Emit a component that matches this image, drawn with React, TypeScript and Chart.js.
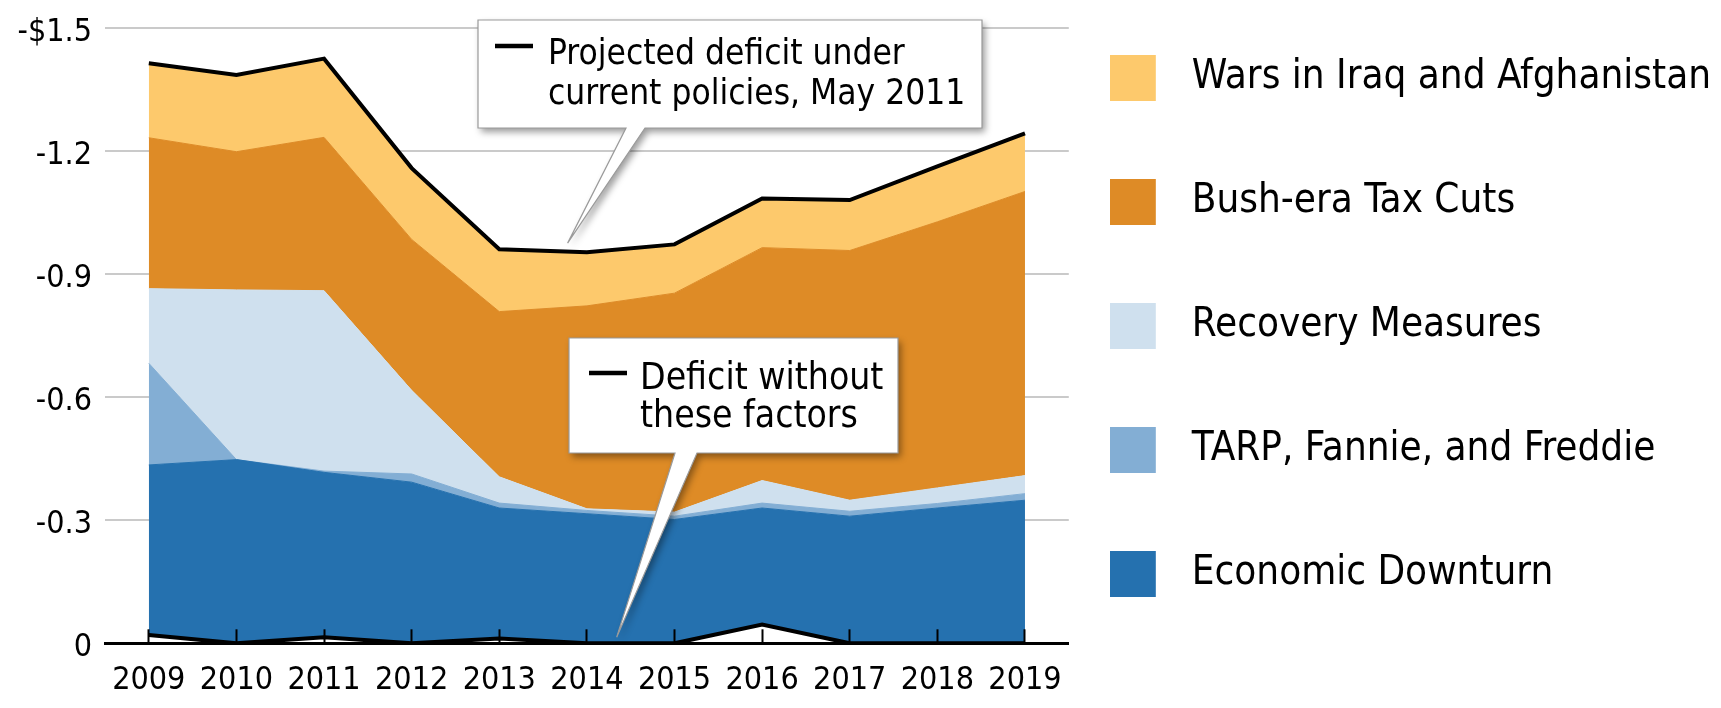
import React, { useEffect, useRef } from 'react';
import { Chart, registerables } from 'chart.js';

Chart.register(...registerables);

// ---------- data (US$ trillions, deficits shown as negative values) ----------
const YEARS = ['2009', '2010', '2011', '2012', '2013', '2014', '2015', '2016', '2017', '2018', '2019'];
// Deficit without these factors (the stack starts from this line)
const BASELINE = [-0.02, 0, -0.015, 0, -0.012, 0, 0, -0.046, 0, 0, 0];
const ECONOMIC_DOWNTURN = [-0.415, -0.448, -0.402, -0.393, -0.318, -0.316, -0.302, -0.284, -0.31, -0.33, -0.349];
const TARP_FANNIE_FREDDIE = [-0.248, 0, -0.003, -0.02, -0.012, -0.008, -0.008, -0.012, -0.012, -0.011, -0.016];
const RECOVERY_MEASURES = [-0.182, -0.414, -0.44, -0.204, -0.064, -0.004, -0.01, -0.055, -0.027, -0.038, -0.044];
const BUSH_TAX_CUTS = [-0.368, -0.337, -0.374, -0.368, -0.403, -0.495, -0.534, -0.568, -0.609, -0.649, -0.693];
const WARS = [-0.182, -0.187, -0.192, -0.174, -0.152, -0.131, -0.119, -0.12, -0.123, -0.135, -0.142];

const Y_TICK_VALUES = [-1.5, -1.2, -0.9, -0.6, -0.3, 0];
const Y_TICK_LABELS = ['-$1.5', '-1.2', '-0.9', '-0.6', '-0.3', '0'];

const LABEL_BASELINE = 'Deficit without these factors';
const LABEL_ED = 'Economic Downturn';
const LABEL_TARP = 'TARP, Fannie, and Freddie';
const LABEL_RECOVERY = 'Recovery Measures';
const LABEL_BUSH = 'Bush-era Tax Cuts';
const LABEL_WARS = 'Wars in Iraq and Afghanistan';

// ---------- styling ----------
const FONT = "'DejaVu Sans Condensed', 'Liberation Sans Narrow', 'Arial Narrow', sans-serif";
const C_ED = '#2571af';
const C_TARP = '#83aed4';
const C_RECOVERY = '#cfe0ee';
const C_BUSH = '#de8b26';
const C_WARS = '#fdc96c';

const TICK_FONT_SIZE = 32;
const LEGEND_FONT_SIZE = 40;

// callouts: the tip is anchored in data space, the box is layout
const CALLOUTS = [
  {
    lines: ['Projected deficit under', 'current policies, May 2011'],
    tipIndex: 4.78,
    tipValue: -0.976,
    fontSize: 35,
    box: { left: 478, top: 20, right: 982, bottom: 128, baseL: 626, baseR: 645 },
    marker: { x1: 495, x2: 533, y: 46 },
    textX: 548,
    baselines: [64, 104],
  },
  {
    lines: ['Deficit without', 'these factors'],
    tipIndex: 5.34,
    tipValue: -0.015,
    fontSize: 37,
    box: { left: 569, top: 338, right: 898, bottom: 453, baseL: 675, baseR: 697 },
    marker: { x1: 589, x2: 627, y: 373 },
    textX: 640,
    baselines: [389, 427],
  },
];

const calloutPlugin = {
  id: 'callouts',
  afterDraw(chart: any) {
    const { ctx } = chart;
    const xs = chart.scales.x;
    const ys = chart.scales.y;
    for (const c of CALLOUTS) {
      const tx = xs.getPixelForValue(c.tipIndex);
      const ty = ys.getPixelForValue(c.tipValue);
      const b = c.box;
      ctx.save();
      ctx.beginPath();
      ctx.moveTo(b.left, b.top);
      ctx.lineTo(b.right, b.top);
      ctx.lineTo(b.right, b.bottom);
      ctx.lineTo(b.baseR, b.bottom);
      ctx.lineTo(tx, ty);
      ctx.lineTo(b.baseL, b.bottom);
      ctx.lineTo(b.left, b.bottom);
      ctx.closePath();
      ctx.shadowColor = 'rgba(0,0,0,0.4)';
      ctx.shadowBlur = 7;
      ctx.shadowOffsetX = 3;
      ctx.shadowOffsetY = 4;
      ctx.fillStyle = '#ffffff';
      ctx.fill();
      ctx.shadowColor = 'rgba(0,0,0,0)';
      ctx.shadowBlur = 0;
      ctx.shadowOffsetX = 0;
      ctx.shadowOffsetY = 0;
      ctx.strokeStyle = '#9a9a9a';
      ctx.lineWidth = 1.2;
      ctx.stroke();
      ctx.beginPath();
      ctx.moveTo(c.marker.x1, c.marker.y);
      ctx.lineTo(c.marker.x2, c.marker.y);
      ctx.strokeStyle = '#000';
      ctx.lineWidth = 4.5;
      ctx.lineCap = 'butt';
      ctx.stroke();
      ctx.fillStyle = '#000';
      ctx.font = `${c.fontSize}px ${FONT}`;
      ctx.textAlign = 'left';
      ctx.textBaseline = 'alphabetic';
      c.lines.forEach((line, i) => ctx.fillText(line, c.textX, c.baselines[i]));
      ctx.restore();
    }
  },
};

function makeSwatch(color: string) {
  const c = document.createElement('canvas');
  c.width = 62;
  c.height = 46;
  const g = c.getContext('2d');
  if (g) {
    g.fillStyle = color;
    g.fillRect(0, 0, 46, 46);
  }
  return c;
}

export default function App() {
  const ref = useRef<HTMLCanvasElement | null>(null);

  useEffect(() => {
    if (!ref.current) return;
    const area = (label: string, data: number[], color: string) => ({
      label,
      data,
      backgroundColor: color,
      borderColor: color,
      borderWidth: 1,
      fill: '-1',
      pointRadius: 0,
      pointHoverRadius: 0,
    });
    const datasets: any[] = [
      {
        label: LABEL_BASELINE,
        data: BASELINE,
        borderColor: '#000',
        backgroundColor: '#000',
        borderWidth: 4,
        fill: false,
        pointRadius: 0,
        pointHoverRadius: 0,
      },
      area(LABEL_ED, ECONOMIC_DOWNTURN, C_ED),
      area(LABEL_TARP, TARP_FANNIE_FREDDIE, C_TARP),
      area(LABEL_RECOVERY, RECOVERY_MEASURES, C_RECOVERY),
      area(LABEL_BUSH, BUSH_TAX_CUTS, C_BUSH),
      { ...area(LABEL_WARS, WARS, C_WARS), borderColor: '#000', borderWidth: 4 },
    ];
    const legendOrder = [5, 4, 3, 2, 1];
    const swatches: Record<number, HTMLCanvasElement> = {};
    legendOrder.forEach((i) => {
      swatches[i] = makeSwatch(datasets[i].backgroundColor);
    });

    let alive = true;
    const chart = new Chart(ref.current, {
      type: 'line',
      data: { labels: YEARS, datasets },
      plugins: [calloutPlugin],
      options: {
        responsive: false,
        maintainAspectRatio: false,
        devicePixelRatio: 1,
        animation: false,
        events: [],
        layout: { padding: { top: 17, left: 0, right: 0, bottom: 0 } },
        plugins: {
          tooltip: { enabled: false },
          legend: {
            position: 'right',
            align: 'start',
            maxWidth: 654,
            labels: {
              usePointStyle: true,
              pointStyleWidth: 62,
              boxHeight: 46,
              padding: 41,
              color: '#000',
              font: { family: FONT, size: LEGEND_FONT_SIZE, lineHeight: '83px' },
              generateLabels: (ch: any) =>
                legendOrder.map((i) => ({
                  text: [ch.data.datasets[i].label],
                  fillStyle: ch.data.datasets[i].backgroundColor,
                  strokeStyle: ch.data.datasets[i].backgroundColor,
                  lineWidth: 0,
                  pointStyle: swatches[i],
                  hidden: false,
                  datasetIndex: i,
                  fontColor: '#000',
                })),
            },
          },
        },
        scales: {
          x: {
            type: 'category',
            offset: true,
            grid: {
              display: true,
              drawOnChartArea: false,
              drawTicks: true,
              tickLength: -14,
              tickColor: '#000',
              tickWidth: 2,
              color: '#000',
              offset: false,
              z: 1,
            },
            border: { display: true, color: '#000', width: 3, z: 1 },
            ticks: {
              color: '#000',
              font: { family: FONT, size: TICK_FONT_SIZE },
              padding: 32.5,
              maxRotation: 0,
              autoSkip: false,
              z: 1,
            },
            afterFit: (s: any) => {
              s.height = 64.7;
              s.paddingLeft = 0;
              s.paddingRight = 0;
            },
          },
          y: {
            stacked: true,
            reverse: true,
            min: -1.5,
            max: 0,
            grid: { color: '#cacaca', lineWidth: 2, drawTicks: false },
            border: { display: false },
            ticks: {
              stepSize: 0.3,
              color: '#000',
              font: { family: FONT, size: TICK_FONT_SIZE },
              padding: 13,
              labelOffset: 4,
              callback: (v: any) => {
                const k = Y_TICK_VALUES.findIndex((t) => Math.abs(t - Number(v)) < 1e-6);
                return k >= 0 ? Y_TICK_LABELS[k] : '';
              },
            },
            afterFit: (s: any) => {
              s.width = 105;
              s.paddingTop = 28.3;
              s.paddingBottom = 0;
            },
          },
        },
      } as any,
    });

    if ((document as any).fonts && (document as any).fonts.ready) {
      (document as any).fonts.ready.then(() => {
        if (alive) chart.update();
      });
    }

    return () => {
      alive = false;
      chart.destroy();
    };
  }, []);

  return (
    <div style={{ position: 'fixed', left: 0, top: 0, width: 1721, height: 708, background: '#fff' }}>
      <canvas ref={ref} width={1721} height={708} style={{ display: 'block', width: '1721px', height: '708px' }} />
    </div>
  );
}
